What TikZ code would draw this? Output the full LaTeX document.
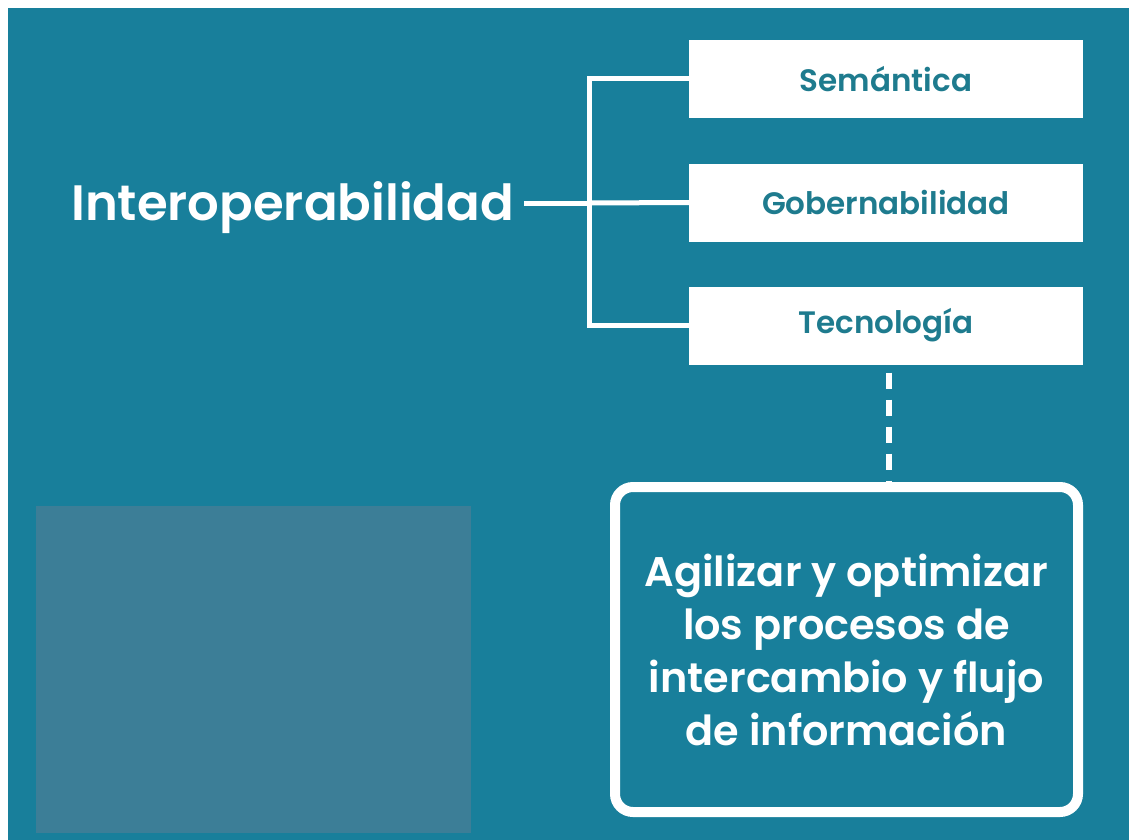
\documentclass[tikz,border=0pt]{standalone}
\usepackage{fontspec}
\setmainfont{Poppins SemiBold}
\usepackage{xcolor}
\usetikzlibrary{positioning,calc}

\definecolor{bgteal}{HTML}{187F9B}
\definecolor{photogray}{HTML}{3C7E97}
\definecolor{boxtext}{HTML}{1E7B8E}

\begin{document}
\begin{tikzpicture}[x=1pt, y=-1pt,
  title/.style={text=white, font=\fontsize{49.7}{56}\selectfont, inner xsep=10pt, inner ysep=0pt, anchor=base west},
  pillar/.style={fill=white, draw=none, minimum width=394pt, minimum height=78pt, text=boxtext, font=\fontsize{31}{36}\selectfont},
  goal/.style={draw=white, line width=10pt, rounded corners=18pt, minimum width=463pt, minimum height=325pt, text=white, align=center, font=\fontsize{41.4}{53}\selectfont},
  photo/.style={fill=photogray, draw=none, minimum width=435pt, minimum height=327pt},
  link/.style={draw=white, line width=5pt},
  dashlink/.style={draw=white, line width=6pt, dash pattern=on 16pt off 11pt, dash phase=-8pt}
]
\fill[white] (0,0) rectangle (1129,840);
\fill[bgteal] (8,8) rectangle (1129,840);

\node[photo] (foto) at (253.5, 669.5) {};

\node[title] (inter) at (61, 220) {Interoperabilidad};
\coordinate (split) at (589, 203);

\node[pillar] (sem) at (886, 79)    {Semántica};
\node[pillar] (gob) at (886, 202.5) {Gobernabilidad};
\node[pillar] (tec) at (886, 325.5) {Tecnología};

\node[goal] (meta) at (846.5, 649.5) {Agilizar y optimizar\\ los procesos de\\ intercambio y flujo\\ de información};

\draw[link] (inter.east |- split) -- (split);
\draw[link] (sem.west) -| (split) |- (tec.west);
\draw[link] (split) -- (gob.west);
\draw[dashlink] ([xshift=3pt]tec.south) -- ([xshift=3pt]tec.south |- meta.north);

\end{tikzpicture}
\end{document}
